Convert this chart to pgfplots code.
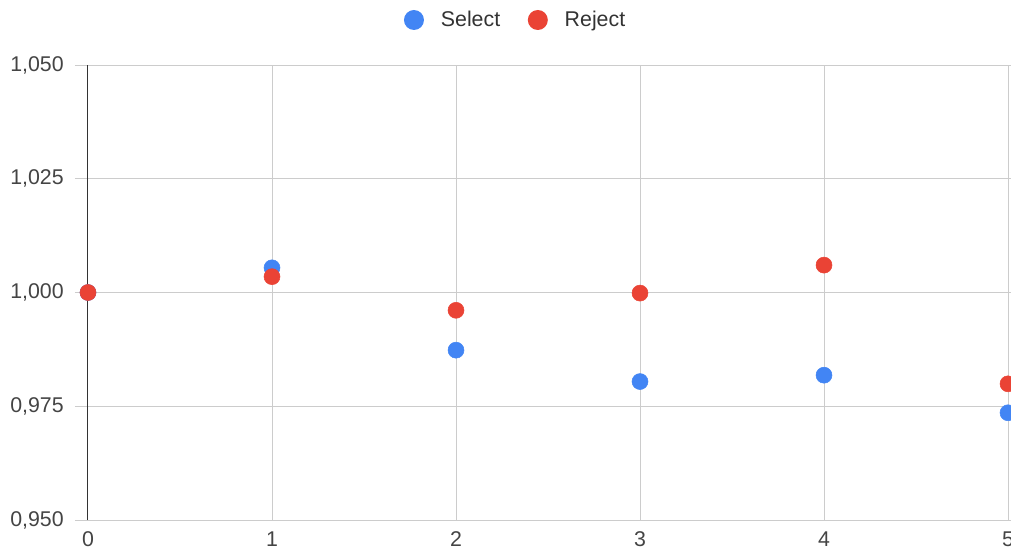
\documentclass[border=0pt]{standalone}
\usepackage{pgfplots}
\pgfplotsset{compat=1.18}
\usepackage{fontspec}
\setmainfont{Liberation Sans}
\definecolor{sel}{HTML}{4285F4}
\definecolor{rej}{HTML}{EA4335}
\definecolor{gridc}{HTML}{CCCCCC}
\definecolor{txt}{HTML}{444444}
\definecolor{axc}{HTML}{333333}
\begin{document}
\begin{tikzpicture}
\begin{axis}[name=ax, scale only axis, width=690pt, height=341.25pt,
  xmin=0, xmax=5, ymin=0.95, ymax=1.05,
  xtick={0,1,2,3,4,5}, ytick={0.95,0.975,1,1.025,1.05},
  grid=major, major grid style={gridc, line width=0.75pt},
  axis line style={draw=none},
  tick align=outside,
  major tick length=9.75pt,
  xtick style={draw=none},
  ytick style={gridc, line width=0.75pt},
  ticklabel style={font=\fontsize{16}{19}\selectfont, text=txt, inner sep=0pt},
  yticklabel style={anchor=east, xshift=-8.25pt},
  xticklabel style={anchor=north, yshift=0.9pt},
  /pgf/number format/assume math mode=true,
  y tick label style={/pgf/number format/.cd, fixed, fixed zerofill, precision=3, use comma, 1000 sep={}},
  x tick label style={/pgf/number format/.cd, fixed, precision=0},
  legend style={at={(0.465,1.0989)}, anchor=center, draw=none, fill=none,
    legend columns=-1, font=\fontsize{16}{19}\selectfont, text=axc,
    /tikz/every even column/.append style={column sep=18.5pt},
    cells={anchor=west}},
  legend image code/.code={\fill[draw=none] (0pt,0pt) circle (7.5pt); \path (-7.5pt,0pt) (18pt,0pt);},
  clip=false,
]
\draw[axc, line width=0.75pt] (axis cs:0,0.95) -- (axis cs:0,1.05);
\addplot[only marks, color=sel, mark=*, mark size=6pt, mark options={draw=none, fill=sel}]
  coordinates {(0,1.000) (1,1.00543) (2,0.98733) (3,0.98043) (4,0.98183) (5,0.97357)};
\addlegendentry{Select}
\addplot[only marks, color=rej, mark=*, mark size=6pt, mark options={draw=none, fill=rej}]
  coordinates {(0,1.000) (1,1.00348) (2,0.99609) (3,0.99987) (4,1.00602) (5,0.97993)};
\addlegendentry{Reject}
\end{axis}
\pgfresetboundingbox
\path ([shift={(-66pt,-23.25pt)}]ax.south west) rectangle ([shift={(2.25pt,48.75pt)}]ax.north east);
\end{tikzpicture}
\end{document}
